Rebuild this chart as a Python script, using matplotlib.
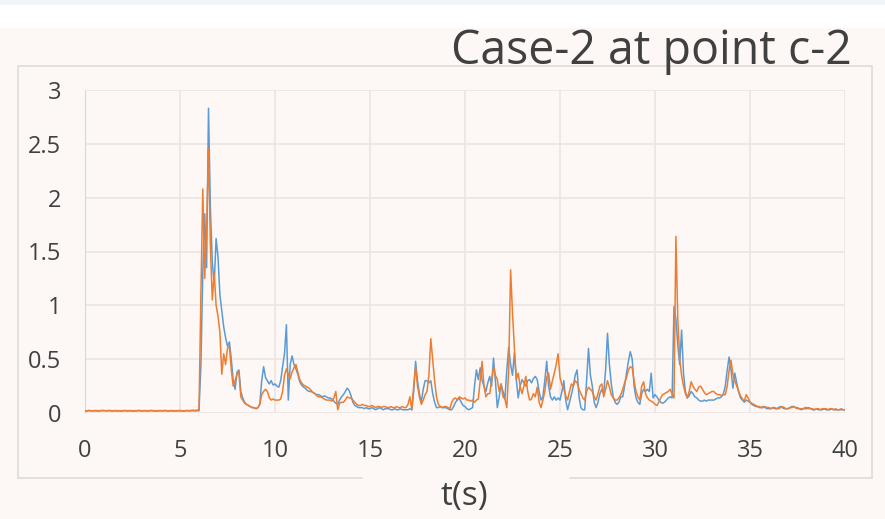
import numpy as np
import matplotlib
matplotlib.use("Agg")
import matplotlib.pyplot as plt
from matplotlib.lines import Line2D
from matplotlib.patches import Rectangle

plt.rcParams['font.family'] = ['Open Sans', 'DejaVu Sans']

TITLE = "Case-2 at point c-2"
X_LABEL = "t(s)"
X_TICKS = [0, 5, 10, 15, 20, 25, 30, 35, 40]
Y_TICKS = [0, 0.5, 1, 1.5, 2, 2.5, 3]
Y_TICK_LABELS = ["0", "0.5", "1", "1.5", "2", "2.5", "3"]

# sample time in seconds, 0.1 s step
TIME = np.round(np.arange(401) * 0.1, 1)

# blue series, one row per second (t = k.0 ... k.9), last value at t = 40
BLUE = [
    0.020, 0.018, 0.022, 0.020, 0.019, 0.021, 0.020, 0.018, 0.020, 0.022,
    0.021, 0.019, 0.020, 0.022, 0.018, 0.020, 0.021, 0.019, 0.020, 0.018,
    0.020, 0.022, 0.019, 0.020, 0.021, 0.018, 0.020, 0.019, 0.022, 0.020,
    0.019, 0.020, 0.021, 0.018, 0.020, 0.022, 0.019, 0.020, 0.018, 0.021,
    0.020, 0.019, 0.022, 0.020, 0.018, 0.021, 0.020, 0.019, 0.020, 0.022,
    0.021, 0.020, 0.018, 0.020, 0.022, 0.019, 0.020, 0.021, 0.019, 0.022,
    0.020, 0.45, 1.30, 1.85, 1.35, 2.83, 1.90, 1.40, 1.20, 1.62,
    1.45, 1.10, 0.95, 0.80, 0.70, 0.62, 0.66, 0.50, 0.30, 0.22,
    0.38, 0.40, 0.20, 0.14, 0.10, 0.08, 0.07, 0.06, 0.05, 0.05,
    0.04, 0.05, 0.08, 0.30, 0.43, 0.33, 0.30, 0.27, 0.30, 0.26,
    0.27, 0.25, 0.24, 0.30, 0.43, 0.55, 0.82, 0.12, 0.45, 0.53,
    0.45, 0.41, 0.36, 0.29, 0.26, 0.24, 0.23, 0.21, 0.20, 0.20,
    0.19, 0.18, 0.17, 0.17, 0.16, 0.15, 0.16, 0.15, 0.14, 0.14,
    0.13, 0.11, 0.09, 0.08, 0.12, 0.15, 0.17, 0.20, 0.23, 0.21,
    0.16, 0.10, 0.07, 0.06, 0.05, 0.05, 0.05, 0.04, 0.05, 0.04,
    0.04, 0.05, 0.04, 0.03, 0.04, 0.05, 0.04, 0.03, 0.04, 0.04,
    0.04, 0.03, 0.03, 0.04, 0.03, 0.03, 0.04, 0.03, 0.03, 0.03,
    0.03, 0.04, 0.03, 0.20, 0.48, 0.30, 0.18, 0.10, 0.22, 0.30,
    0.30, 0.28, 0.30, 0.18, 0.10, 0.05, 0.05, 0.06, 0.05, 0.05,
    0.05, 0.04, 0.03, 0.03, 0.06, 0.10, 0.12, 0.14, 0.10, 0.07,
    0.06, 0.04, 0.03, 0.04, 0.05, 0.25, 0.40, 0.31, 0.42, 0.30,
    0.25, 0.20, 0.28, 0.34, 0.25, 0.51, 0.30, 0.05, 0.15, 0.27,
    0.20, 0.13, 0.40, 0.61, 0.45, 0.35, 0.56, 0.31, 0.14, 0.25,
    0.31, 0.28, 0.25, 0.30, 0.31, 0.28, 0.32, 0.34, 0.31, 0.20,
    0.12, 0.15, 0.30, 0.48, 0.25, 0.15, 0.12, 0.15, 0.12, 0.14,
    0.12, 0.20, 0.30, 0.12, 0.03, 0.10, 0.17, 0.25, 0.35, 0.40,
    0.15, 0.05, 0.03, 0.03, 0.30, 0.60, 0.35, 0.25, 0.10, 0.05,
    0.10, 0.18, 0.22, 0.18, 0.40, 0.74, 0.45, 0.27, 0.15, 0.10,
    0.08, 0.10, 0.15, 0.15, 0.25, 0.37, 0.48, 0.57, 0.50, 0.25,
    0.14, 0.10, 0.08, 0.18, 0.22, 0.20, 0.22, 0.20, 0.37, 0.14,
    0.17, 0.15, 0.12, 0.10, 0.09, 0.10, 0.12, 0.14, 0.15, 0.14,
    0.99, 0.87, 0.63, 0.45, 0.77, 0.37, 0.20, 0.14, 0.16, 0.20,
    0.18, 0.15, 0.14, 0.12, 0.11, 0.11, 0.12, 0.11, 0.12, 0.12,
    0.12, 0.12, 0.13, 0.14, 0.14, 0.15, 0.18, 0.25, 0.40, 0.52,
    0.40, 0.23, 0.37, 0.28, 0.20, 0.14, 0.12, 0.10, 0.12, 0.11,
    0.10, 0.08, 0.07, 0.06, 0.06, 0.05, 0.05, 0.06, 0.05, 0.04,
    0.04, 0.04, 0.05, 0.04, 0.04, 0.05, 0.06, 0.05, 0.04, 0.04,
    0.04, 0.05, 0.06, 0.06, 0.05, 0.04, 0.04, 0.03, 0.04, 0.04,
    0.04, 0.05, 0.04, 0.03, 0.03, 0.04, 0.03, 0.03, 0.03, 0.04,
    0.03, 0.03, 0.03, 0.04, 0.03, 0.03, 0.03, 0.03, 0.03, 0.03,
    0.03,
]

ORANGE = [
    0.022, 0.020, 0.024, 0.021, 0.020, 0.023, 0.022, 0.020, 0.021, 0.024,
    0.022, 0.021, 0.023, 0.024, 0.020, 0.022, 0.023, 0.021, 0.022, 0.020,
    0.022, 0.024, 0.021, 0.022, 0.023, 0.020, 0.022, 0.021, 0.024, 0.022,
    0.021, 0.022, 0.023, 0.020, 0.022, 0.024, 0.021, 0.022, 0.020, 0.023,
    0.022, 0.021, 0.024, 0.022, 0.020, 0.023, 0.022, 0.021, 0.022, 0.024,
    0.023, 0.022, 0.020, 0.022, 0.024, 0.021, 0.025, 0.026, 0.024, 0.027,
    0.030, 1.10, 2.08, 1.25, 1.70, 2.46, 1.55, 1.05, 1.30, 1.00,
    0.90, 0.75, 0.36, 0.55, 0.45, 0.60, 0.62, 0.40, 0.25, 0.30,
    0.36, 0.38, 0.15, 0.12, 0.09, 0.08, 0.07, 0.06, 0.05, 0.05,
    0.04, 0.05, 0.08, 0.17, 0.20, 0.22, 0.20, 0.14, 0.12, 0.13,
    0.12, 0.12, 0.12, 0.13, 0.20, 0.35, 0.41, 0.36, 0.32, 0.38,
    0.42, 0.45, 0.38, 0.31, 0.28, 0.26, 0.25, 0.24, 0.23, 0.21,
    0.19, 0.18, 0.16, 0.15, 0.15, 0.14, 0.13, 0.12, 0.12, 0.12,
    0.11, 0.14, 0.20, 0.03, 0.09, 0.10, 0.10, 0.12, 0.15, 0.14,
    0.14, 0.12, 0.10, 0.08, 0.07, 0.07, 0.08, 0.07, 0.07, 0.06,
    0.06, 0.07, 0.06, 0.05, 0.06, 0.06, 0.05, 0.06, 0.06, 0.05,
    0.05, 0.06, 0.05, 0.05, 0.06, 0.05, 0.05, 0.06, 0.05, 0.05,
    0.08, 0.15, 0.03, 0.25, 0.43, 0.25, 0.15, 0.08, 0.12, 0.17,
    0.20, 0.35, 0.69, 0.50, 0.30, 0.15, 0.08, 0.06, 0.05, 0.06,
    0.06, 0.05, 0.04, 0.10, 0.13, 0.14, 0.12, 0.15, 0.14, 0.13,
    0.14, 0.12, 0.12, 0.11, 0.12, 0.10, 0.12, 0.13, 0.30, 0.48,
    0.25, 0.15, 0.18, 0.18, 0.30, 0.43, 0.35, 0.31, 0.20, 0.27,
    0.15, 0.13, 0.05, 0.40, 1.33, 0.93, 0.60, 0.31, 0.37, 0.25,
    0.18, 0.25, 0.34, 0.20, 0.12, 0.13, 0.18, 0.15, 0.24, 0.10,
    0.05, 0.12, 0.20, 0.33, 0.37, 0.22, 0.30, 0.37, 0.45, 0.55,
    0.33, 0.26, 0.22, 0.16, 0.12, 0.20, 0.27, 0.25, 0.30, 0.28,
    0.22, 0.18, 0.14, 0.12, 0.20, 0.24, 0.22, 0.20, 0.15, 0.12,
    0.18, 0.25, 0.27, 0.15, 0.22, 0.30, 0.24, 0.17, 0.14, 0.12,
    0.12, 0.14, 0.17, 0.22, 0.28, 0.33, 0.40, 0.43, 0.42, 0.30,
    0.20, 0.15, 0.12, 0.25, 0.29, 0.18, 0.14, 0.12, 0.11, 0.10,
    0.08, 0.07, 0.10, 0.14, 0.17, 0.18, 0.19, 0.20, 0.22, 0.18,
    0.14, 1.64, 0.87, 0.50, 0.35, 0.25, 0.18, 0.14, 0.20, 0.29,
    0.25, 0.22, 0.20, 0.24, 0.25, 0.22, 0.19, 0.17, 0.18, 0.19,
    0.20, 0.20, 0.18, 0.17, 0.17, 0.16, 0.17, 0.17, 0.25, 0.40,
    0.49, 0.36, 0.30, 0.25, 0.20, 0.16, 0.13, 0.11, 0.17, 0.14,
    0.10, 0.09, 0.08, 0.07, 0.06, 0.06, 0.05, 0.05, 0.06, 0.05,
    0.05, 0.04, 0.05, 0.05, 0.04, 0.04, 0.05, 0.06, 0.05, 0.04,
    0.04, 0.05, 0.05, 0.06, 0.05, 0.05, 0.04, 0.04, 0.04, 0.05,
    0.05, 0.04, 0.04, 0.04, 0.03, 0.04, 0.04, 0.03, 0.04, 0.04,
    0.04, 0.03, 0.04, 0.04, 0.03, 0.04, 0.03, 0.03, 0.04, 0.03,
    0.03,
]

BLUE_COLOR = '#5B9BD5'
ORANGE_COLOR = '#ED7D31'
TEXT_COLOR = '#404040'
GRID_COLOR = '#EAE5E2'
BG_COLOR = '#FDF8F5'

fig = plt.figure(figsize=(8.85, 5.19), dpi=100, facecolor=BG_COLOR)

# white strip across the top of the picture
fig.add_artist(Rectangle((0, 1 - 28 / 519), 1, 23 / 519, transform=fig.transFigure,
                         facecolor='white', edgecolor='none', zorder=0))
fig.add_artist(Rectangle((0, 1 - 5 / 519), 1, 5 / 519, transform=fig.transFigure,
                         facecolor='#F2F5F8', edgecolor='none', zorder=0))

# chart frame, broken at the bottom where the axis title sits
fx0, fx1 = 18 / 885, 872 / 885
fy0, fy1 = 1 - 478 / 519, 1 - 66 / 519
frame = dict(color='#DEDBD9', linewidth=1.2, transform=fig.transFigure)
fig.add_artist(Line2D([fx0, fx0, fx1, fx1], [fy0, fy1, fy1, fy0], **frame))
fig.add_artist(Line2D([fx0, 362 / 885], [fy0, fy0], **frame))
fig.add_artist(Line2D([570 / 885, fx1], [fy0, fy0], **frame))

ax = fig.add_axes([85 / 885, 1 - 413 / 519, 760 / 885, 323 / 519])
ax.set_facecolor(BG_COLOR)

ax.plot(TIME, BLUE, color=BLUE_COLOR, linewidth=1.1, zorder=3)
ax.plot(TIME, ORANGE, color=ORANGE_COLOR, linewidth=1.1, zorder=4)

ax.set_xlim(0, 40)
ax.set_ylim(0, 3)
ax.set_xticks(X_TICKS)
ax.set_yticks(Y_TICKS)
ax.set_yticklabels(Y_TICK_LABELS)
ax.tick_params(length=0, labelsize=17, colors=TEXT_COLOR)
ax.tick_params(axis='x', pad=19)
ax.tick_params(axis='y', pad=17)
ax.grid(True, color=GRID_COLOR, linewidth=1.2, zorder=0)
ax.set_axisbelow(True)
for side in ['top', 'right', 'bottom']:
    ax.spines[side].set_visible(False)
ax.spines['left'].set_color('#D5D8E3')
ax.spines['left'].set_linewidth(0.8)

fig.text(852 / 885, 1 - 64 / 519, TITLE, ha='right', va='baseline',
         fontsize=33.5, color=TEXT_COLOR)
fig.text(464 / 885, 1 - 497 / 519, X_LABEL, ha='center', va='center',
         fontsize=24, color=TEXT_COLOR)

fig.savefig("out.png", dpi=100, facecolor=fig.get_facecolor())
